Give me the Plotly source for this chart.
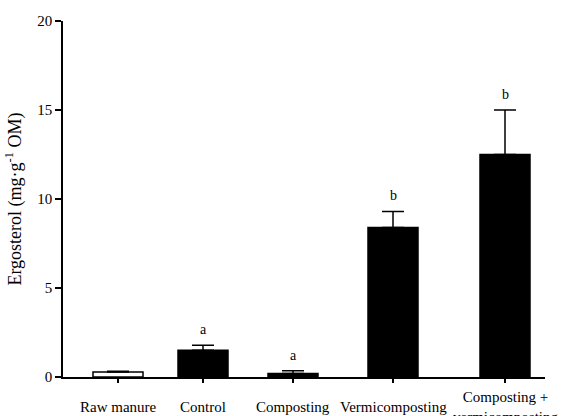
import plotly.graph_objects as go

categories = ["Raw manure", "Control", "Composting", "Vermicomposting", "Composting +<br>vermicomposting"]
values = [0.28, 1.5, 0.2, 8.4, 12.5]
errors = [0.05, 0.28, 0.15, 0.9, 2.5]
letters = ["", "a", "a", "b", "b"]
fill_colors = ["white", "black", "black", "black", "black"]
positions = [55, 140, 230, 330, 442]
y_ticks = [0, 5, 10, 15, 20]

FONT = "Liberation Serif, Times New Roman, serif"

fig = go.Figure()
fig.add_trace(go.Bar(
    x=positions, y=values, width=50,
    marker=dict(color=fill_colors, line=dict(color="black", width=1.5)),
    error_y=dict(type="data", symmetric=False, array=errors,
                 arrayminus=[0] * len(errors), color="black",
                 thickness=1.5, width=11),
    showlegend=False, hoverinfo="skip",
))

annotations = []
for p, v, e, l in zip(positions, values, errors, letters):
    if l:
        annotations.append(dict(x=p, y=v + e, text=l, showarrow=False,
                                yanchor="bottom", yshift=6,
                                font=dict(family=FONT, size=14, color="black")))
for p, c in zip(positions, categories):
    annotations.append(dict(x=p, y=0, text=c, showarrow=False,
                            yanchor="middle", yshift=-30,
                            font=dict(family=FONT, size=15, color="black")))

fig.update_layout(
    width=563, height=416,
    margin=dict(l=63, r=18, t=21, b=39),
    paper_bgcolor="white", plot_bgcolor="white",
    font=dict(family=FONT, size=15, color="black"),
    annotations=annotations,
    xaxis=dict(range=[0, 482], showgrid=False, zeroline=False,
               showline=True, linecolor="black", linewidth=1.5,
               tickmode="array", tickvals=positions, ticktext=[""] * len(positions),
               ticks="outside", ticklen=4, tickwidth=1.5, tickcolor="black",
               showticklabels=False, fixedrange=True, automargin=False),
    yaxis=dict(range=[0, 20], showgrid=False, zeroline=False,
               showline=True, linecolor="black", linewidth=1.5,
               tickmode="array", tickvals=y_ticks,
               ticks="outside", ticklen=6, tickwidth=1.5, tickcolor="black",
               tickfont=dict(family=FONT, size=15, color="black"),
               title=dict(text="Ergosterol (mg·g<sup>-1</sup> OM)",
                          font=dict(family=FONT, size=18, color="black"),
                          standoff=11),
               automargin=False, fixedrange=True),
)

fig.write_html("out.html", config={"displayModeBar": False},
               post_script="document.body.style.margin='0px';document.body.style.overflow='hidden';")
